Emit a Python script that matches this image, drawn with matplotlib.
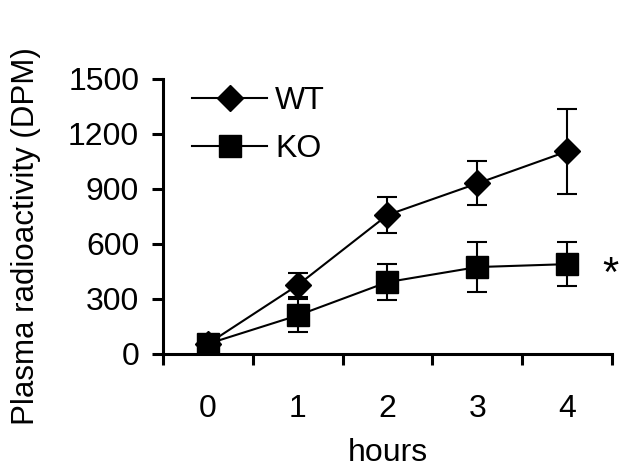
import matplotlib.pyplot as plt

# Dane
hours = [0, 1, 2, 3, 4]
wt_mean = [55, 375, 758, 930, 1105]
wt_err = [25, 65, 100, 120, 230]
ko_mean = [55, 210, 392, 474, 490]
ko_err = [25, 90, 100, 135, 120]

plt.rcParams['font.family'] = ['Liberation Sans', 'DejaVu Sans']

fig = plt.figure(figsize=(6.19, 4.67), dpi=100)
ax = fig.add_axes([0.263, 0.242, 0.726, 0.589])

# Słupki błędów osobno, żeby nie trafiły do legendy
ax.errorbar(hours, wt_mean, yerr=wt_err, fmt='none', ecolor='black',
            elinewidth=1.5, capsize=7, capthick=1.5, zorder=2)
ax.errorbar(hours, ko_mean, yerr=ko_err, fmt='none', ecolor='black',
            elinewidth=1.5, capsize=7, capthick=1.5, zorder=2)
ax.plot(hours, wt_mean, color='black', marker='D', markersize=13.5,
        linewidth=1.5, label='WT', zorder=3)
ax.plot(hours, ko_mean, color='black', marker='s', markersize=16,
        linewidth=1.5, label='KO', zorder=3)

# Gwiazdka istotności przy ostatnim punkcie KO
ax.annotate('*', xy=(hours[-1], ko_mean[-1]), xytext=(31, -8), textcoords='offset points',
            fontsize=30, ha='center', va='center', annotation_clip=False)

ax.set_xlim(-0.5, 4.5)
ax.set_ylim(0, 1500)
ax.set_yticks([0, 300, 600, 900, 1200, 1500])
ax.set_xticks([-0.5, 0.5, 1.5, 2.5, 3.5, 4.5])
ax.set_xticklabels([])
ax.set_xticks(hours, minor=True)
ax.set_xticklabels([str(h) for h in hours], minor=True)
ax.tick_params(axis='x', which='minor', length=0, labelsize=23, pad=29)
ax.tick_params(axis='both', which='major', length=8, width=2.2, labelsize=23, direction='out')
ax.tick_params(axis='y', which='major', pad=9)

for s in ['top', 'right']:
    ax.spines[s].set_visible(False)
for s in ['left', 'bottom']:
    ax.spines[s].set_linewidth(2.2)

ax.set_xlabel('hours', fontsize=23, labelpad=10)
ax.set_ylabel('Plasma radioactivity (DPM)', fontsize=22.5)
ax.yaxis.set_label_coords(-0.272, 0.43)

ax.legend(loc='upper left', frameon=False, fontsize=23, handlelength=2.35,
          handletextpad=0.25, borderpad=0, borderaxespad=0, labelspacing=0.58,
          bbox_to_anchor=(0.065, 0.975))

fig.savefig('out.png', dpi=100)
